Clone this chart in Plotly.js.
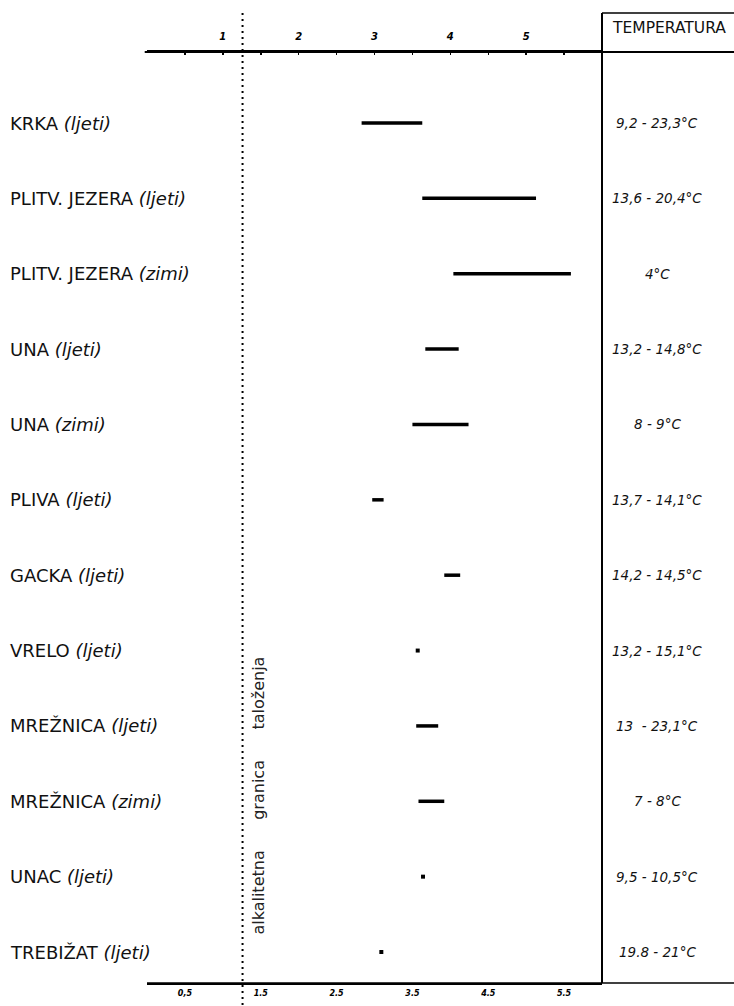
<!DOCTYPE html>
<html>
<head>
<meta charset="utf-8">
<script src="https://cdn.plot.ly/plotly-3.0.1.min.js"></script>
<style>html,body{margin:0;padding:0;background:#fff;}#chart{width:734px;height:1006px;}</style>
</head>
<body>
<div id="chart"></div>
<script>
// ---- data ----
const rivers = ['KRKA','PLITV. JEZERA','PLITV. JEZERA','UNA','UNA','PLIVA','GACKA','VRELO','MREŽNICA','MREŽNICA','UNAC','TREBIŽAT'];
const seasons = ['ljeti','ljeti','zimi','ljeti','zimi','ljeti','ljeti','ljeti','ljeti','zimi','ljeti','ljeti'];
const alkLow  = [2.83, 3.63, 4.04, 3.67, 3.50, 2.97, 3.92, 3.57, 3.55, 3.58, 3.64, 3.09];
const alkHigh = [3.63, 5.13, 5.59, 4.11, 4.24, 3.12, 4.13, 3.57, 3.84, 3.92, 3.64, 3.09];
const temperatures = ['9,2 - 23,3°C','13,6 - 20,4°C','4°C','13,2 - 14,8°C','8 - 9°C','13,7 - 14,1°C','14,2 - 14,5°C','13,2 - 15,1°C','13  - 23,1°C','7 - 8°C','9,5 - 10,5°C','19.8 - 21°C'];
const topTickVals = [1, 2, 3, 4, 5];
const topTickText = ['1', '2', '3', '4', '5'];
const bottomTickVals = [0.5, 1.5, 2.5, 3.5, 4.5, 5.5];
const bottomTickText = ['0,5', '1.5', '2.5', '3.5', '4.5', '5.5'];
const alkalinityLimit = 1.26;
const limitLabel = 'alkalitetna      granica      taloženja';
const columnTitle = 'TEMPERATURA';

// ---- build traces ----
const rowIdx = rivers.map((_, i) => i);
const lx = [], ly = [], dx = [], dy = [];
rowIdx.forEach(i => {
  if (alkHigh[i] > alkLow[i]) {
    lx.push(alkLow[i], alkHigh[i], null);
    ly.push(i, i, null);
  } else {
    dx.push(alkLow[i]);
    dy.push(i);
  }
});

const traces = [
  {type: 'scatter', mode: 'lines', x: lx, y: ly, xaxis: 'x', yaxis: 'y',
   line: {color: '#000', width: 3.5}, hoverinfo: 'skip', showlegend: false, connectgaps: false},
  {type: 'scatter', mode: 'markers', x: dx, y: dy, xaxis: 'x2', yaxis: 'y',
   marker: {color: '#000', size: 4, symbol: 'square'}, hoverinfo: 'skip', showlegend: false}
];

const txtFont = {family: 'DejaVu Sans, Liberation Sans, sans-serif', size: 18, color: '#111'};
const tempFont = {family: 'DejaVu Sans, sans-serif', size: 13.5, color: '#111', style: 'italic'};

const annotations = [];
rowIdx.forEach(i => {
  annotations.push({
    xref: 'paper', yref: 'y', x: -0.306, y: i, xanchor: 'left', yanchor: 'middle',
    text: rivers[i] + ' <i>(' + seasons[i] + ')</i>', showarrow: false, font: txtFont
  });
  annotations.push({
    xref: 'paper', yref: 'y', x: 1.121, y: i, xanchor: 'center', yanchor: 'middle',
    text: temperatures[i], showarrow: false, font: tempFont
  });
});
annotations.push({
  xref: 'paper', yref: 'paper', x: 1.148, y: 1.026, xanchor: 'center', yanchor: 'middle',
  text: columnTitle, showarrow: false,
  font: {family: 'DejaVu Sans, sans-serif', size: 15.5, color: '#111'}
});
annotations.push({
  xref: 'x', yref: 'y', x: alkalinityLimit, xshift: 15, y: 8.93,
  xanchor: 'center', yanchor: 'middle', textangle: -90,
  text: limitLabel, showarrow: false,
  font: {family: 'DejaVu Sans, sans-serif', size: 16, color: '#222'}
});

const shapes = [
  {type: 'line', xref: 'x', yref: 'paper', x0: alkalinityLimit, x1: alkalinityLimit, y0: -0.03, y1: 1.043,
   line: {color: '#000', width: 2, dash: '2px,4px'}},
  {type: 'line', xref: 'paper', yref: 'paper', x0: 1, x1: 1, y0: 0, y1: 1.042,
   line: {color: '#000', width: 2}},
  {type: 'line', xref: 'paper', yref: 'paper', x0: 1, x1: 1.30, y0: 1.042, y1: 1.042,
   line: {color: '#000', width: 1.5}},
  {type: 'line', xref: 'paper', yref: 'paper', x0: -0.005, x1: 1.30, y0: 1, y1: 1,
   line: {color: '#000', width: 2}},
  {type: 'line', xref: 'paper', yref: 'paper', x0: 0, x1: 1.30, y0: 0, y1: 0,
   line: {color: '#000', width: 1.5}}
];

const layout = {
  width: 734, height: 1006,
  margin: {l: 147, r: 132, t: 52, b: 23, pad: 0},
  paper_bgcolor: '#fff', plot_bgcolor: '#fff',
  showlegend: false,
  xaxis: {
    range: [0, 6], side: 'top', showgrid: false, zeroline: false,
    showline: true, linecolor: '#000', linewidth: 2,
    tickmode: 'array', tickvals: topTickVals, ticktext: topTickText,
    ticks: 'inside', ticklen: 3, tickcolor: '#000', tickwidth: 1.5,
    minor: {dtick: 0.5, ticks: 'inside', ticklen: 3, tickcolor: '#000', tickwidth: 1.5},
    ticklabelstandoff: 6,
    tickfont: {family: 'DejaVu Sans, sans-serif', size: 10, color: '#000', style: 'italic', weight: 'bold'},
    fixedrange: true
  },
  xaxis2: {
    range: [0, 6], overlaying: 'x', side: 'bottom', anchor: 'y', showgrid: false, zeroline: false,
    showline: true, linecolor: '#000', linewidth: 1.5,
    tickmode: 'array', tickvals: bottomTickVals, ticktext: bottomTickText,
    ticks: '', ticklabelstandoff: 2,
    tickfont: {family: 'DejaVu Sans, sans-serif', size: 8, color: '#000', style: 'italic', weight: 'bold'},
    fixedrange: true
  },
  yaxis: {
    range: [11.411, -0.942], showgrid: false, zeroline: false, showline: false,
    showticklabels: false, ticks: '', fixedrange: true
  },
  annotations: annotations,
  shapes: shapes
};

Plotly.newPlot('chart', traces, layout, {staticPlot: true, displayModeBar: false});
</script>
</body>
</html>
